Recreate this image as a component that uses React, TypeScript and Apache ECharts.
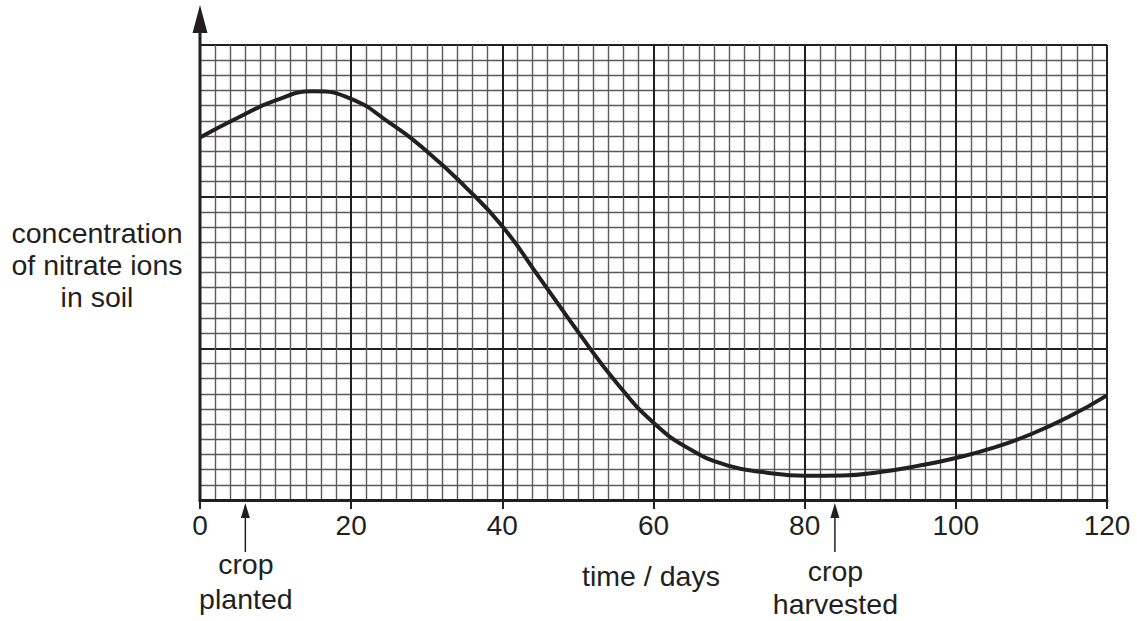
import React, { useEffect, useRef } from "react";
import * as echarts from "echarts";

// time in days
const days = [0, 5, 10, 15, 20, 25, 30, 35, 40, 45, 50, 55, 60, 65, 70, 75, 80, 85, 90, 95, 100, 105, 110, 115, 120];
// concentration of nitrate ions (in grid squares, arbitrary units)
const nitrate = [23.9, 25.2, 26.35, 26.95, 26.45, 24.9, 23.0, 20.7, 18.05, 14.6, 11.1, 7.8, 5.1, 3.3, 2.25, 1.8, 1.6, 1.62, 1.85, 2.25, 2.77, 3.45, 4.35, 5.5, 6.9];

const xTickLabels = ["0", "20", "40", "60", "80", "100", "120"];
const yTitleLines = ["concentration", "of nitrate ions", "in soil"];
const xTitle = "time / days";
const markerDays = [6, 84];
const markerTexts = ["crop\nplanted", "crop\nharvested"];

const FONT = "'Liberation Sans', Arial, sans-serif";
const INK = "#231f20";

export default function App() {
  const ref = useRef<HTMLDivElement>(null);

  useEffect(() => {
    if (!ref.current) return;
    const chart = echarts.init(ref.current, undefined, { renderer: "svg" });
    chart.setOption({
      animation: false,
      backgroundColor: "#ffffff",
      grid: { left: 200, right: 30, top: 45, bottom: 121, containLabel: false },
      xAxis: {
        type: "value",
        min: 0,
        max: 120,
        interval: 20,
        axisLine: { show: true, onZero: false, lineStyle: { color: INK, width: 3 } },
        axisTick: { show: true, length: 9, lineStyle: { color: INK, width: 2 } },
        axisLabel: {
          margin: 11,
          fontSize: 28,
          fontFamily: FONT,
          color: INK,
          formatter: (v: number) => xTickLabels[Math.round(v / 20)] ?? "",
        },
        splitLine: { show: true, lineStyle: { color: INK, width: 2 } },
        minorTick: { show: false, splitNumber: 10 },
        minorSplitLine: { show: true, lineStyle: { color: "#5a5a5a", width: 1.4 } },
      },
      yAxis: {
        type: "value",
        min: 0,
        max: 30,
        interval: 10,
        axisLine: { show: false },
        axisTick: { show: false },
        axisLabel: { show: false },
        splitLine: { show: true, lineStyle: { color: INK, width: 2 } },
        minorTick: { show: false, splitNumber: 10 },
        minorSplitLine: { show: true, lineStyle: { color: "#5a5a5a", width: 1.4 } },
      },
      series: [
        {
          type: "line",
          data: days.map((d, i) => [d, nitrate[i]]),
          smooth: 0.5,
          showSymbol: false,
          symbol: "none",
          lineStyle: { color: INK, width: 4 },
          z: 5,
        },
      ],
    });

    const [x0, yBottom] = chart.convertToPixel({ gridIndex: 0 }, [0, 0]) as number[];
    const [, yTop] = chart.convertToPixel({ gridIndex: 0 }, [0, 30]) as number[];

    const textStyle = (text: string, lineHeight: number) => ({
      text,
      fontSize: 28.5,
      fontFamily: FONT,
      fill: INK,
      align: "center",
      verticalAlign: "middle",
      lineHeight,
    });

    const graphics: any[] = [
      {
        type: "line",
        shape: { x1: x0, y1: yBottom + 1.5, x2: x0, y2: yTop - 14 },
        style: { stroke: INK, lineWidth: 3 },
        z: 10,
      },
      {
        type: "polygon",
        shape: { points: [[x0 - 7.5, yTop - 12], [x0 + 7.5, yTop - 12], [x0, yTop - 40]] },
        style: { fill: INK },
        z: 10,
      },
      {
        type: "text",
        x: 97,
        y: 265,
        style: textStyle(yTitleLines.join("\n"), 32),
      },
      {
        type: "text",
        x: 651,
        y: 576,
        style: textStyle(xTitle, 32),
      },
    ];

    markerDays.forEach((d, i) => {
      const [px] = chart.convertToPixel({ gridIndex: 0 }, [d, 0]) as number[];
      graphics.push(
        {
          type: "line",
          shape: { x1: px, y1: yBottom + 52, x2: px, y2: yBottom + 14 },
          style: { stroke: INK, lineWidth: 1.5 },
          z: 10,
        },
        {
          type: "polygon",
          shape: { points: [[px - 4.5, yBottom + 18], [px + 4.5, yBottom + 18], [px, yBottom + 3]] },
          style: { fill: INK },
          z: 10,
        },
        {
          type: "text",
          x: px + 0.5,
          y: i === 0 ? 581 : 587,
          style: textStyle(markerTexts[i], i === 0 ? 35 : 33),
        }
      );
    });

    chart.setOption({ graphic: graphics });

    return () => chart.dispose();
  }, []);

  return (
    <div
      ref={ref}
      style={{ position: "fixed", left: 0, top: 0, width: 1137, height: 621, background: "#fff" }}
    />
  );
}
